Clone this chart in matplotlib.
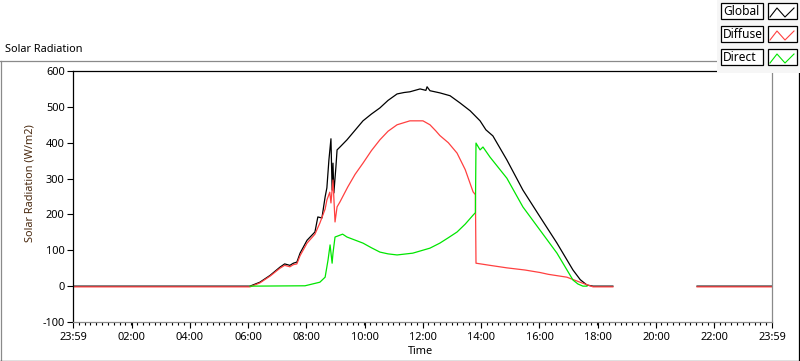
import matplotlib
matplotlib.use('Agg')
import matplotlib.pyplot as plt
import numpy as np
from matplotlib.ticker import FixedLocator
from matplotlib.lines import Line2D
from matplotlib.patches import Rectangle

nan = np.nan

# time in hours of day, values in W/m2
global_t = [-0.017, 6.06, 6.40, 6.75, 7.09, 7.25, 7.43, 7.55, 7.67, 7.78, 8.02, 8.29,
            8.39, 8.53, 8.64, 8.70, 8.77, 8.84, 8.88, 8.91, 8.94, 9.01, 9.05, 9.15,
            9.39, 9.67, 9.94, 10.23, 10.52, 10.80, 11.11, 11.35, 11.55, 11.90, 12.10,
            12.14, 12.24, 12.58, 12.93, 13.27, 13.62, 13.96, 14.16, 14.40, 14.88, 15.43,
            16.02, 16.60, 17.15, 17.40, 17.63, 17.84, 18.52, 18.53, 21.41, 23.98]
global_v = [0, 0, 11, 30, 53, 62, 58, 64, 67, 92, 128, 151,
            193, 190, 249, 274, 352, 411, 268, 343, 260, 332, 380, 388,
            408, 435, 461, 480, 497, 518, 536, 540, 542, 550, 546,
            556, 545, 539, 531, 511, 489, 461, 436, 419, 352, 268,
            193, 120, 45, 18, 3, 0, 0, nan, 0, 0]

diffuse_t = [-0.017, 6.06, 6.40, 6.75, 7.09, 7.25, 7.43, 7.55, 7.67, 7.78, 8.02, 8.29,
             8.46, 8.64, 8.70, 8.80, 8.84, 8.91, 8.98, 9.05, 9.15, 9.42, 9.67, 9.94,
             10.23, 10.52, 10.80, 11.11, 11.55, 12.00, 12.24, 12.44, 12.58, 12.87,
             13.17, 13.45, 13.72, 13.80, 13.82, 14.30, 14.88, 15.50, 16.02, 16.30,
             16.94, 17.49, 17.84, 18.52, 18.53, 21.41, 23.98]
diffuse_v = [-2, -2, 9, 28, 50, 58, 54, 60, 62, 85, 120, 145,
             176, 215, 240, 262, 232, 296, 179, 221, 235, 277, 312, 343,
             378, 408, 432, 450, 461, 461, 450, 433, 420, 400,
             371, 325, 263, 255, 64, 58, 51, 45, 38, 33,
             25, 8, -2, -2, nan, -2, -2]

direct_t = [6.06, 7.95, 8.46, 8.64, 8.74, 8.81, 8.88, 8.91, 8.98, 9.08, 9.24, 9.39,
            9.94, 10.23, 10.52, 10.80, 11.11, 11.65, 12.24, 12.58, 12.87, 13.17, 13.45,
            13.72, 13.80, 13.82, 13.96, 14.06, 14.30, 14.88, 15.43, 16.02, 16.60,
            17.15, 17.32, 17.49, 17.63]
direct_v = [0, 1, 11, 25, 73, 115, 64, 92, 137, 140, 145, 137,
            120, 107, 95, 90, 87, 92, 106, 120, 135, 151, 173,
            198, 205, 399, 380, 388, 360, 301, 221, 156, 92,
            17, 6, 0, 0]

series = ['Global', 'Diffuse', 'Direct']
colors = ['#000000', '#ff4040', '#00e600']
ytick_vals = list(range(-100, 601, 100))
xtick_hours = [-1/60, 2, 4, 6, 8, 10, 12, 14, 16, 18, 20, 22, 24 - 1/60]
xtick_labels = ['23:59', '02:00', '04:00', '06:00', '08:00', '10:00', '12:00',
                '14:00', '16:00', '18:00', '20:00', '22:00', '23:59']

W, H = 800, 361
def fx(px):
    return px / W
def fy(py):
    return 1 - py / H

plt.rcParams['font.family'] = ['Noto Sans', 'DejaVu Sans']
fs = 7.9

fig = plt.figure(figsize=(8, 3.61), dpi=100)
ax = fig.add_axes([fx(73), fy(322), fx(772) - fx(73), fy(71) - fy(322)])

ax.plot(global_t, global_v, color=colors[0], lw=0.9)
ax.plot(diffuse_t, diffuse_v, color=colors[1], lw=0.9)
ax.plot(direct_t, direct_v, color=colors[2], lw=0.9)

ax.set_xlim(-1/60, 24 - 1/60)
ax.set_ylim(-100, 600)
ax.set_yticks(ytick_vals)
ax.set_yticklabels([str(v) for v in ytick_vals], fontsize=fs)
ax.set_xticks(xtick_hours)
ax.set_xticklabels(xtick_labels, fontsize=fs)
ax.xaxis.set_minor_locator(FixedLocator(np.arange(-1/60, 24, 0.2)))
ax.tick_params(axis='y', length=4, width=0.8, pad=2, colors='black')
ax.tick_params(axis='x', which='major', length=4, width=0.8, pad=3)
ax.tick_params(axis='x', which='minor', length=2, width=0.8)

for s in ['left', 'top']:
    ax.spines[s].set_color('black')
    ax.spines[s].set_linewidth(0.9)
for s in ['right', 'bottom']:
    ax.spines[s].set_color('#8a8a8a')
    ax.spines[s].set_linewidth(0.9)

fig.text(fx(30), fy(183), 'Solar Radiation (W/m2)', rotation=90, ha='center',
         va='center', fontsize=fs, color='#4a2a10')
fig.text(fx(420), fy(352), 'Time', ha='center', va='center', fontsize=fs)
fig.text(fx(5), fy(50), 'Solar Radiation', ha='left', va='center', fontsize=fs)

# panel frame
fig.add_artist(Line2D([fx(0), fx(717)], [fy(61), fy(61)], color='#8a8a8a', lw=0.9))
fig.add_artist(Line2D([fx(0.5), fx(0.5)], [fy(61), fy(361)], color='#8a8a8a', lw=0.9))
fig.add_artist(Line2D([fx(0), fx(799)], [fy(360.5), fy(360.5)], color='black', lw=0.9))
fig.add_artist(Line2D([fx(798.5), fx(798.5)], [fy(73), fy(361)], color='black', lw=0.9))

# legend panel
fig.add_artist(Rectangle((fx(717), fy(73)), fx(800) - fx(717), fy(0) - fy(73),
                         transform=fig.transFigure, facecolor='#f6f6f6',
                         edgecolor='none', zorder=5))
for i, name in enumerate(series):
    top = 3 + 23 * i
    fig.add_artist(Rectangle((fx(721), fy(top + 16)), fx(763) - fx(721), fy(top) - fy(top + 16),
                             transform=fig.transFigure, facecolor='white',
                             edgecolor='black', lw=0.9, zorder=6))
    fig.add_artist(Rectangle((fx(768), fy(top + 16)), fx(797) - fx(768), fy(top) - fy(top + 16),
                             transform=fig.transFigure, facecolor='white',
                             edgecolor='black', lw=0.9, zorder=6))
    fig.text(fx(723), fy(top + 8.5), name, ha='left', va='center', fontsize=8.6, zorder=7)
    fig.add_artist(Line2D([fx(770), fx(777), fx(785), fx(794)],
                          [fy(top + 14), fy(top + 5), fy(top + 14), fy(top + 5)],
                          color=colors[i], lw=0.8, zorder=7))

fig.savefig('out.png', dpi=100)
